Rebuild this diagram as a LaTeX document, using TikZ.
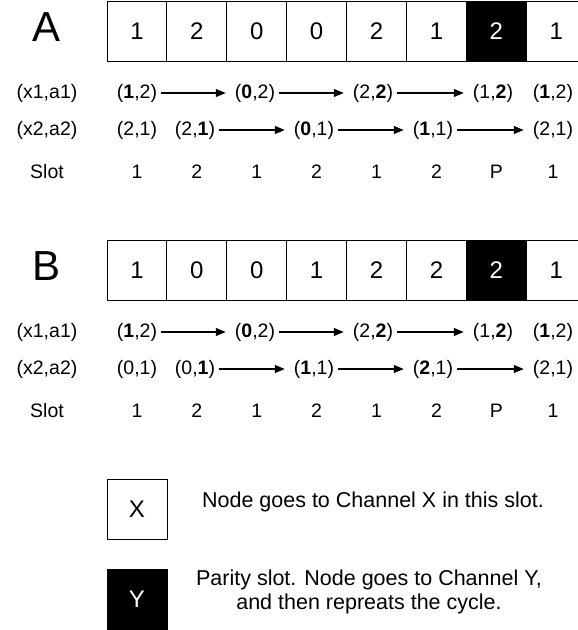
\documentclass[tikz,border=0pt]{standalone}
\usepackage{fontspec}
\setmainfont{Liberation Sans}
\usetikzlibrary{arrows.meta}
\begin{document}
\begin{tikzpicture}[x=1pt,y=-1pt,
  cell/.style={draw=black, line width=0.9pt, minimum width=59.9pt, minimum height=59.5pt, inner sep=0pt, outer sep=0pt, font=\fontsize{24}{28}\selectfont},
  pcell/.style={cell, fill=black, text=white},
  tup/.style={font=\fontsize{19.5}{22}\selectfont, inner sep=4pt, text height=14.2pt, text depth=4.1pt},
  slotlbl/.style={font=\fontsize{19.5}{22}\selectfont, inner sep=2pt},
  big/.style={font=\fontsize{42}{46}\selectfont, inner sep=0pt},
  arr/.style={-{Triangle[length=10pt,width=8pt]}, line width=1.1pt, shorten >=5pt},
  legtext/.style={font=\fontsize{21.5}{24}\selectfont, align=center, inner sep=0pt}
]
\useasboundingbox (0,0) rectangle (578,630);

% ---------------- Part A ----------------
\node[big] (A) at (47,27) {A};
\node[cell]  (a1) at (136.95,31.25) {1};
\node[cell]  (a2) at (196.85,31.25) {2};
\node[cell]  (a3) at (256.75,31.25) {0};
\node[cell]  (a4) at (316.65,31.25) {0};
\node[cell]  (a5) at (376.55,31.25) {2};
\node[cell]  (a6) at (436.45,31.25) {1};
\node[pcell] (a7) at (496.35,31.25) {2};
\node[cell]  (a8) at (556.25,31.25) {1};

\node[tup] (al1) at (47,93) {(x1,a1)};
\node[tup] (al2) at (47,130) {(x2,a2)};
\node[slotlbl] (al3) at (47,172) {Slot};

\node[tup] (ax1) at (137,93) {(\textbf{1},2)};
\node[tup] (ax3) at (255,93) {(\textbf{0},2)};
\node[tup] (ax5) at (373,93) {(2,\textbf{2})};
\node[tup] (ax7) at (493,93) {(1,\textbf{2})};
\node[tup] (ax8) at (553,93) {(\textbf{1},2)};
\draw[arr] (ax1) -- (ax3);
\draw[arr] (ax3) -- (ax5);
\draw[arr] (ax5) -- (ax7);

\node[tup] (ay1) at (137,130) {(2,1)};
\node[tup] (ay2) at (195,130) {(2,\textbf{1})};
\node[tup] (ay4) at (314,130) {(\textbf{0},1)};
\node[tup] (ay6) at (433,130) {(\textbf{1},1)};
\node[tup] (ay8) at (553,130) {(2,1)};
\draw[arr] (ay2) -- (ay4);
\draw[arr] (ay4) -- (ay6);
\draw[arr] (ay6) -- (ay8);

\node[slotlbl] (as1) at (136.95,172) {1};
\node[slotlbl] (as2) at (196.85,172) {2};
\node[slotlbl] (as3) at (256.75,172) {1};
\node[slotlbl] (as4) at (316.65,172) {2};
\node[slotlbl] (as5) at (376.55,172) {1};
\node[slotlbl] (as6) at (436.45,172) {2};
\node[slotlbl] (as7) at (496.35,172) {P};
\node[slotlbl] (as8) at (553,172) {1};

% ---------------- Part B ----------------
\node[big] (B) at (47,266) {B};
\node[cell]  (b1) at (136.95,270.5) {1};
\node[cell]  (b2) at (196.85,270.5) {0};
\node[cell]  (b3) at (256.75,270.5) {0};
\node[cell]  (b4) at (316.65,270.5) {1};
\node[cell]  (b5) at (376.55,270.5) {2};
\node[cell]  (b6) at (436.45,270.5) {2};
\node[pcell] (b7) at (496.35,270.5) {2};
\node[cell]  (b8) at (556.25,270.5) {1};

\node[tup] (bl1) at (47,332) {(x1,a1)};
\node[tup] (bl2) at (47,369) {(x2,a2)};
\node[slotlbl] (bl3) at (47,411) {Slot};

\node[tup] (bx1) at (137,332) {(\textbf{1},2)};
\node[tup] (bx3) at (255,332) {(\textbf{0},2)};
\node[tup] (bx5) at (373,332) {(2,\textbf{2})};
\node[tup] (bx7) at (493,332) {(1,\textbf{2})};
\node[tup] (bx8) at (553,332) {(\textbf{1},2)};
\draw[arr] (bx1) -- (bx3);
\draw[arr] (bx3) -- (bx5);
\draw[arr] (bx5) -- (bx7);

\node[tup] (by1) at (137,369) {(0,1)};
\node[tup] (by2) at (195,369) {(0,\textbf{1})};
\node[tup] (by4) at (314,369) {(\textbf{1},1)};
\node[tup] (by6) at (433,369) {(\textbf{2},1)};
\node[tup] (by8) at (553,369) {(2,1)};
\draw[arr] (by2) -- (by4);
\draw[arr] (by4) -- (by6);
\draw[arr] (by6) -- (by8);

\node[slotlbl] (bs1) at (136.95,411) {1};
\node[slotlbl] (bs2) at (196.85,411) {2};
\node[slotlbl] (bs3) at (256.75,411) {1};
\node[slotlbl] (bs4) at (316.65,411) {2};
\node[slotlbl] (bs5) at (376.55,411) {1};
\node[slotlbl] (bs6) at (436.45,411) {2};
\node[slotlbl] (bs7) at (496.35,411) {P};
\node[slotlbl] (bs8) at (553,411) {1};

% ---------------- Legend ----------------
\node[cell]  (lx) at (137,509.3) {X};
\node[pcell] (ly) at (137,599.3) {Y};
\node[legtext, anchor=base] (tx) at (373,507) {Node goes to Channel X in this slot.};
\node[legtext] (ty) at (369,591.5) {Parity slot. Node goes to Channel Y,\\and then repreats the cycle.};
\end{tikzpicture}
\end{document}
